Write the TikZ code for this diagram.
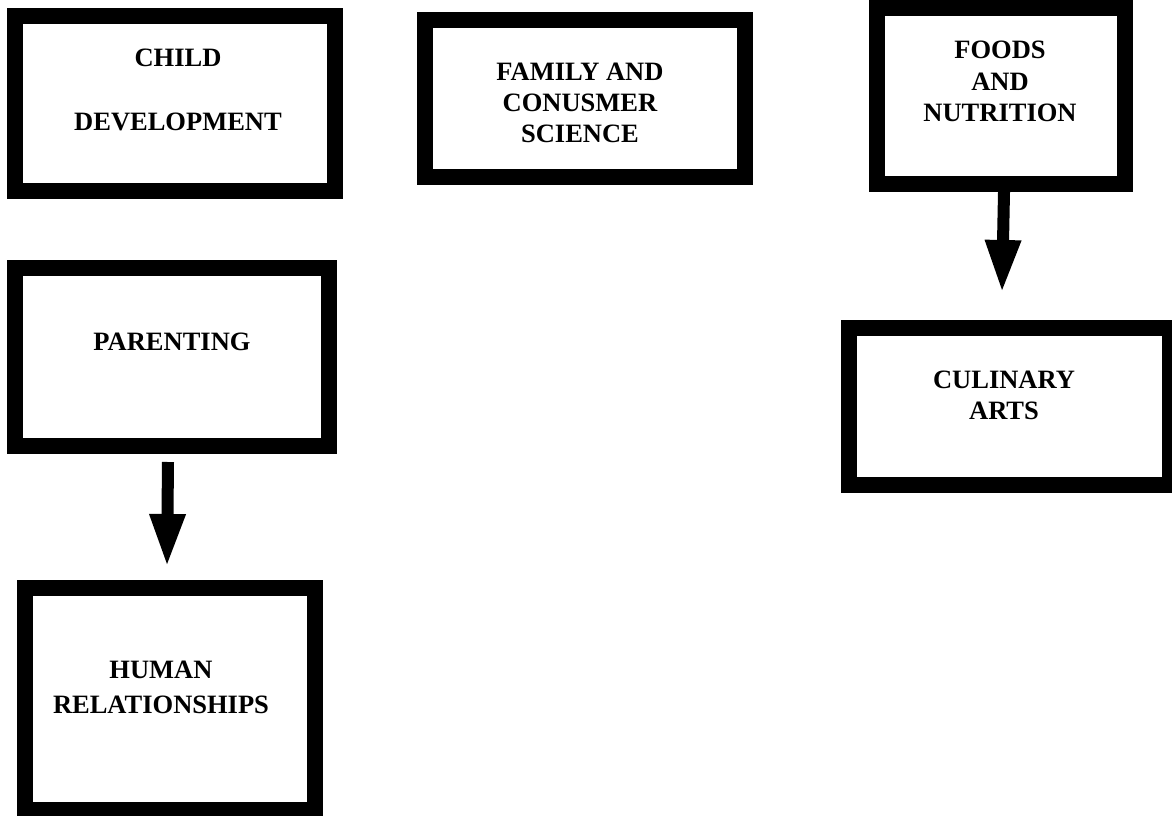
\documentclass[tikz,border=0pt]{standalone}
\usepackage{fontspec}
\setmainfont{Liberation Serif}
\usetikzlibrary{arrows.meta}
\begin{document}
\begin{tikzpicture}[x=1pt,y=-1pt,
  box/.style={draw=black, line width=16pt, fill=white, inner sep=0pt, outer sep=0pt},
  lbl/.style={font=\fontsize{26.5}{31}\selectfont\bfseries, align=center, inner sep=0pt},
  bigarrow/.style={line width=12pt, -{Triangle[width=33pt,length=53pt]}}]
\fill[white] (0,0) rectangle (1172,816);
\useasboundingbox (0,0) rectangle (1172,816);
% boxes
\node[box, minimum width=320pt, minimum height=175pt] (child) at (175,103.5) {};
\node[box, minimum width=320pt, minimum height=157pt] (family) at (585,98.5) {};
\node[box, minimum width=248pt, minimum height=176pt] (foods) at (1001,96) {};
\node[box, minimum width=314pt, minimum height=178pt] (parenting) at (172,357) {};
\node[box, minimum width=321pt, minimum height=157pt] (culinary) at (1009.5,406.5) {};
\node[box, minimum width=290pt, minimum height=222pt] (human) at (170,699) {};
% labels
\node[lbl] (childtxt) at (178,58) {CHILD};
\node[lbl] (childtxt2) at (178,122) {DEVELOPMENT};
\node[lbl] (familytxt) at (580,103) {FAMILY AND\\CONUSMER\\SCIENCE};
\node[lbl, font=\fontsize{26.5}{31.5}\selectfont\bfseries] (foodstxt) at (1000,81.5) {FOODS\\AND\\NUTRITION};
\node[lbl] (parentingtxt) at (172,342) {PARENTING};
\node[lbl] (culinarytxt) at (1004,395) {CULINARY\\ARTS};
\node[lbl, font=\fontsize{26.5}{35}\selectfont\bfseries] (humantxt) at (161,687.5) {HUMAN\\RELATIONSHIPS};
% arrows
\draw[bigarrow] ([shift={(-4,16)}]parenting.south) -- ([shift={(-3,-21)}]human.north);
\draw[bigarrow] ([shift={(3,8)}]foods.south) -- ([shift={(-7.5,-35)}]culinary.north);
\end{tikzpicture}
\end{document}
